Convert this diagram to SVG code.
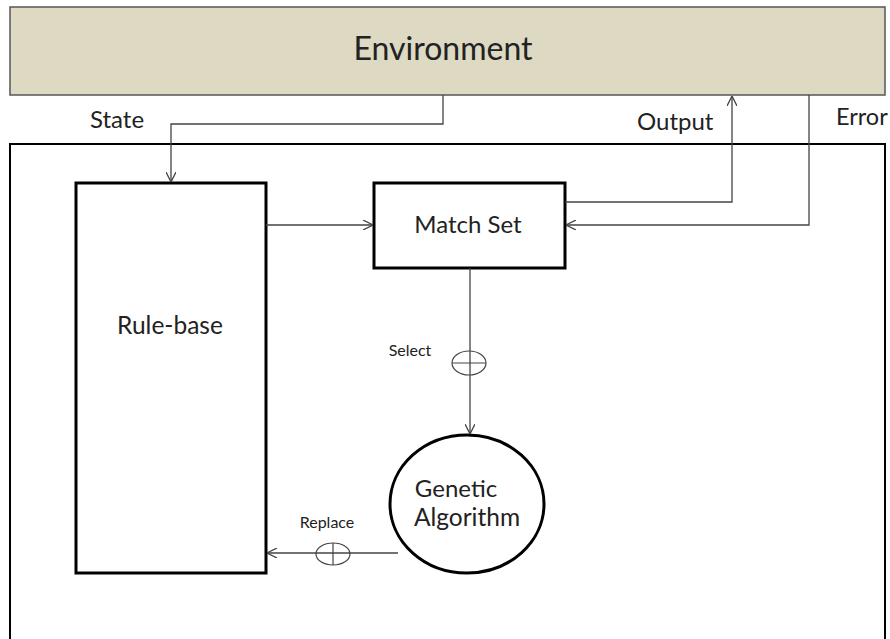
<svg xmlns="http://www.w3.org/2000/svg" width="890" height="639" viewBox="0 0 890 639">
<style>
  text { font-family: Lato, "Open Sans", sans-serif; fill: #222; }
  .box { fill: #fff; stroke: #000; stroke-width: 3; }
  .conn { fill: none; stroke: #444; stroke-width: 1.3; }
  .sym { fill: none; stroke: #444; stroke-width: 1.2; }
</style>
<defs>
  <marker id="arr" viewBox="0 0 10 10" refX="10" refY="5" markerWidth="10" markerHeight="10" markerUnits="userSpaceOnUse" orient="auto">
    <polyline points="0,0 10,5 0,10" fill="none" stroke="#444" stroke-width="1.3"/>
  </marker>
</defs>
<rect width="890" height="639" fill="#fff"/>
<g id="environment">
  <rect x="10" y="7" width="875" height="88" fill="#ddd9c3" stroke="#555" stroke-width="1.5"/>
  <text x="443" y="60" font-size="32" text-anchor="middle">Environment</text>
</g>
<g id="system">
  <rect x="10" y="144" width="875" height="510" fill="none" stroke="#000" stroke-width="2"/>
</g>
<g id="labels">
  <text x="90" y="128" font-size="24">State</text>
  <text x="637" y="130" font-size="24">Output</text>
  <text x="836" y="125" font-size="23.5">Error</text>
</g>
<g id="rule-base">
  <rect class="box" x="76" y="183" width="190" height="390"/>
  <text x="170" y="334" font-size="24.5" text-anchor="middle">Rule-base</text>
</g>
<g id="match-set">
  <rect class="box" x="374" y="183" width="191" height="85"/>
  <text x="468" y="233" font-size="24" text-anchor="middle">Match Set</text>
</g>
<g id="genetic-algorithm">
  <ellipse cx="467" cy="504" rx="77" ry="69" fill="#fff" stroke="#000" stroke-width="3"/>
  <text x="456" y="497" font-size="24" text-anchor="middle">Genetic</text>
  <text x="467" y="526" font-size="24.5" text-anchor="middle">Algorithm</text>
</g>
<g id="connectors">
  <polyline class="conn" points="443,95 443,124 171,124 171,182" marker-end="url(#arr)"/>
  <line class="conn" x1="266" y1="225" x2="373" y2="225" marker-end="url(#arr)"/>
  <polyline class="conn" points="565,202 732,202 732,96" marker-end="url(#arr)"/>
  <polyline class="conn" points="809,95 809,225 566,225" marker-end="url(#arr)"/>
  <line class="conn" x1="470" y1="268" x2="470" y2="434" marker-end="url(#arr)"/>
  <line class="conn" x1="398" y1="553" x2="267" y2="553" marker-end="url(#arr)"/>
</g>
<g id="select">
  <ellipse class="sym" cx="469" cy="363" rx="17" ry="12"/>
  <line class="sym" x1="452" y1="363" x2="486" y2="363"/>
  <text x="410" y="356" font-size="16" text-anchor="middle">Select</text>
</g>
<g id="replace">
  <ellipse class="sym" cx="333" cy="554" rx="17" ry="11"/>
  <line class="sym" x1="333" y1="543" x2="333" y2="565"/>
  <text x="327" y="528" font-size="16" text-anchor="middle">Replace</text>
</g>
</svg>
